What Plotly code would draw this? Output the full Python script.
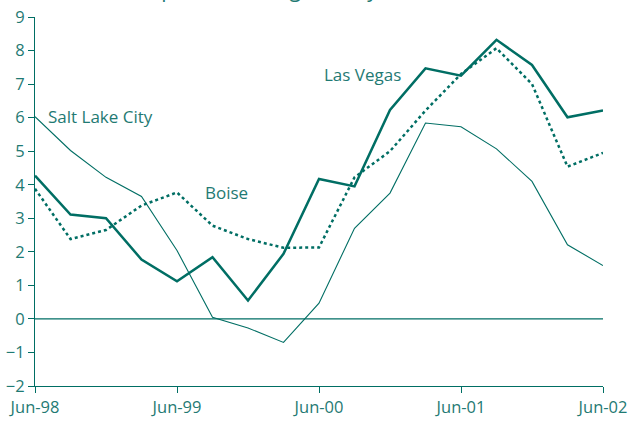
import plotly.graph_objects as go

quarters = ["Jun-98", "Sep-98", "Dec-98", "Mar-99", "Jun-99", "Sep-99", "Dec-99", "Mar-00",
            "Jun-00", "Sep-00", "Dec-00", "Mar-01", "Jun-01", "Sep-01", "Dec-01", "Mar-02", "Jun-02"]
las_vegas = [4.27, 3.11, 3.0, 1.77, 1.12, 1.84, 0.55, 1.94, 4.17, 3.95, 6.23, 7.47, 7.25, 8.32, 7.57, 6.01, 6.21]
salt_lake = [6.03, 5.02, 4.22, 3.65, 2.04, 0.05, -0.27, -0.70, 0.47, 2.70, 3.75, 5.84, 5.73, 5.07, 4.10, 2.21, 1.59]
boise = [3.88, 2.38, 2.65, 3.38, 3.77, 2.78, 2.38, 2.12, 2.13, 4.22, 5.0, 6.21, 7.30, 8.07, 7.0, 4.54, 4.95]
tick_labels = ["Jun-98", "Jun-99", "Jun-00", "Jun-01", "Jun-02"]
y_ticks = list(range(-2, 10))

LINE = "#006e64"
TEXT = "#1f7a73"
FONT = "Open Sans"

xi = list(range(len(quarters)))
tick_pos = [i for i, q in enumerate(quarters) if q in tick_labels]

fig = go.Figure()
fig.add_trace(go.Scatter(x=xi, y=salt_lake, mode="lines", line=dict(color=LINE, width=1.1),
                         name="Salt Lake City", hoverinfo="skip"))
fig.add_trace(go.Scatter(x=xi, y=boise, mode="lines", line=dict(color=LINE, width=2.5, dash="dot"),
                         name="Boise", hoverinfo="skip"))
fig.add_trace(go.Scatter(x=xi, y=las_vegas, mode="lines", line=dict(color=LINE, width=2.5),
                         name="Las Vegas", hoverinfo="skip"))

fig.add_shape(type="line", xref="x", yref="y", x0=0, x1=16, y0=0, y1=0,
              line=dict(color=LINE, width=1.2))

ann_font = dict(family=FONT, size=17, color=TEXT)
fig.add_annotation(x=0.3, y=6.03, text="Salt Lake City", showarrow=False, xanchor="left",
                   yanchor="middle", font=ann_font)
fig.add_annotation(x=4.73, y=3.76, text="Boise", showarrow=False, xanchor="left",
                   yanchor="middle", font=ann_font)
fig.add_annotation(x=8.08, y=7.28, text="Las Vegas", showarrow=False, xanchor="left",
                   yanchor="middle", font=ann_font)
fig.add_annotation(xref="paper", yref="paper", x=0.5, y=1, yshift=12, yanchor="bottom",
                   text="(percent change over year earlier)", showarrow=False,
                   font=dict(family=FONT, size=21, color=TEXT))

fig.update_layout(
    width=633, height=423,
    margin=dict(l=35, r=30, t=17, b=37, autoexpand=False),
    paper_bgcolor="white", plot_bgcolor="white",
    showlegend=False,
    font=dict(family=FONT, color=TEXT, size=16),
    xaxis=dict(range=[0, 16], tickvals=tick_pos, ticktext=tick_labels, showgrid=False,
               zeroline=False, showline=True, linecolor=LINE, linewidth=1.2, automargin=False,
               ticks="outside", ticklen=6, tickcolor=LINE, tickwidth=1.2,
               tickfont=dict(family=FONT, size=16.5, color=TEXT)),
    yaxis=dict(range=[-2, 9], tickvals=y_ticks, showgrid=False, zeroline=False, automargin=False,
               showline=True, linecolor=LINE, linewidth=1.2,
               ticks="outside", ticklen=6, tickcolor=LINE, tickwidth=1.2,
               tickfont=dict(family=FONT, size=16.5, color=TEXT)),
)

fig.write_html("out.html", config={"displayModeBar": False},
               post_script="document.body.style.margin='0';document.body.style.padding='0';"
                           "document.body.style.overflow='hidden';")
